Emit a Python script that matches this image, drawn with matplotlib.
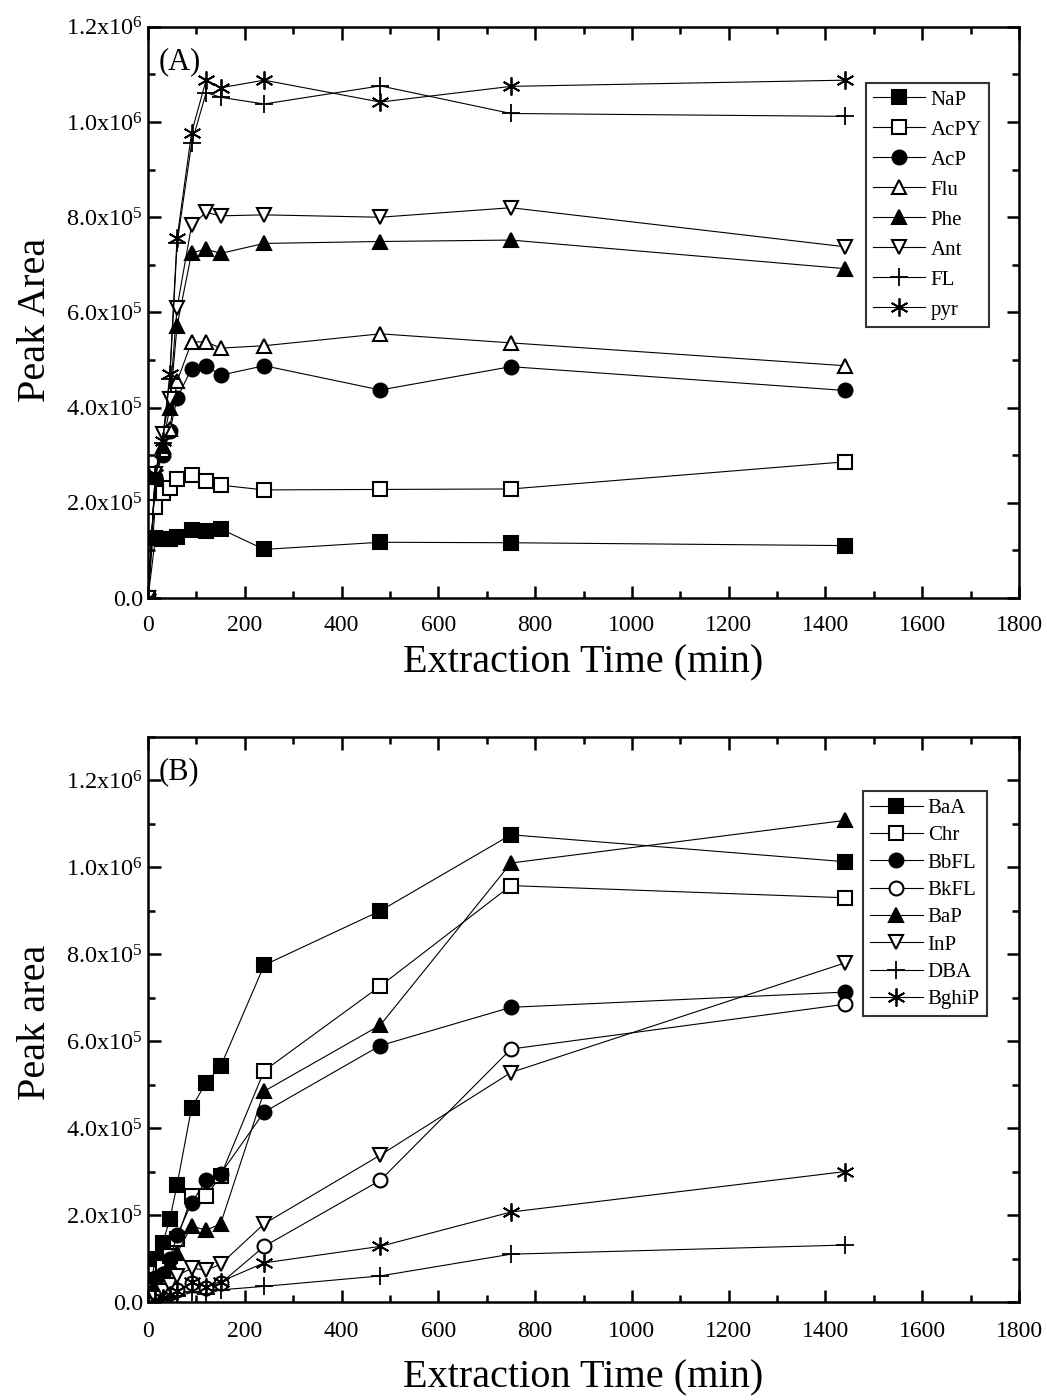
import matplotlib
matplotlib.use("Agg")
import matplotlib.pyplot as plt
from matplotlib.ticker import MultipleLocator, FixedLocator, FixedFormatter

plt.rcParams['font.family'] = ['Liberation Serif', 'DejaVu Serif']
plt.rcParams['mathtext.fontset'] = 'custom'
plt.rcParams['mathtext.rm'] = 'Liberation Serif'
plt.rcParams['mathtext.it'] = 'Liberation Serif:italic'

times = [0, 15, 30, 45, 60, 90, 120, 150, 240, 480, 750, 1440]

# Panel A
labels_a = ["NaP", "AcPY", "AcP", "Flu", "Phe", "Ant", "FL", "pyr"]
nap  = [0, 1.25e5, 1.24e5, 1.24e5, 1.28e5, 1.42e5, 1.40e5, 1.45e5, 1.02e5, 1.17e5, 1.16e5, 1.10e5]
acpy = [0, 1.92e5, 2.20e5, 2.32e5, 2.50e5, 2.58e5, 2.46e5, 2.37e5, 2.27e5, 2.28e5, 2.29e5, 2.86e5]
acp  = [0, 2.55e5, 3.00e5, 3.50e5, 4.20e5, 4.82e5, 4.88e5, 4.68e5, 4.88e5, 4.37e5, 4.86e5, 4.36e5]
flu  = [0, 2.55e5, 3.10e5, 3.55e5, 4.55e5, 5.38e5, 5.38e5, 5.25e5, 5.30e5, 5.55e5, 5.36e5, 4.88e5]
phe  = [0, 2.55e5, 3.20e5, 4.00e5, 5.72e5, 7.25e5, 7.33e5, 7.24e5, 7.45e5, 7.49e5, 7.52e5, 6.92e5]
ant  = [0, 2.60e5, 3.45e5, 4.18e5, 6.10e5, 7.83e5, 8.10e5, 8.03e5, 8.05e5, 8.00e5, 8.20e5, 7.38e5]
fl   = [0, 2.50e5, 3.25e5, 4.60e5, 7.45e5, 9.55e5, 10.62e5, 10.52e5, 10.38e5, 10.76e5, 10.18e5, 10.12e5]
pyr  = [0, 2.60e5, 3.30e5, 4.70e5, 7.56e5, 9.78e5, 10.88e5, 10.72e5, 10.88e5, 10.42e5, 10.75e5, 10.88e5]
series_a = [nap, acpy, acp, flu, phe, ant, fl, pyr]

# Panel B
labels_b = ["BaA", "Chr", "BbFL", "BkFL", "BaP", "InP", "DBA", "BghiP"]
baa   = [0, 1.00e5, 1.35e5, 1.90e5, 2.70e5, 4.47e5, 5.05e5, 5.42e5, 7.75e5, 9.00e5, 10.75e5, 10.13e5]
chr_  = [0, 0.50e5, 0.80e5, 1.05e5, 1.45e5, 2.43e5, 2.43e5, 2.90e5, 5.32e5, 7.27e5, 9.58e5, 9.30e5]
bbfl  = [0, 0.55e5, 0.65e5, 1.00e5, 1.53e5, 2.28e5, 2.80e5, 2.95e5, 4.37e5, 5.90e5, 6.78e5, 7.13e5]
bkfl  = [0, 0.05e5, 0.12e5, 0.20e5, 0.28e5, 0.43e5, 0.33e5, 0.43e5, 1.28e5, 2.80e5, 5.82e5, 6.85e5]
bap   = [0, 0.40e5, 0.65e5, 0.90e5, 1.12e5, 1.75e5, 1.65e5, 1.80e5, 4.85e5, 6.37e5, 10.10e5, 11.08e5]
inp   = [0, 0.10e5, 0.25e5, 0.40e5, 0.60e5, 0.78e5, 0.73e5, 0.87e5, 1.80e5, 3.38e5, 5.28e5, 7.80e5]
dba   = [0, 0.03e5, 0.06e5, 0.10e5, 0.13e5, 0.22e5, 0.18e5, 0.28e5, 0.36e5, 0.60e5, 1.10e5, 1.31e5]
bghip = [0, 0.05e5, 0.10e5, 0.17e5, 0.25e5, 0.45e5, 0.35e5, 0.47e5, 0.90e5, 1.28e5, 2.07e5, 3.00e5]
series_b = [baa, chr_, bbfl, bkfl, bap, inp, dba, bghip]

# marker styles: (marker, filled)
styles = [("s", True), ("s", False), ("o", True), ("^", False), ("^", True), ("v", False), ("+", True), ("*", True)]
styles_b = [("s", True), ("s", False), ("o", True), ("o", False), ("^", True), ("v", False), ("+", True), ("*", True)]

ytick_vals = [0, 2e5, 4e5, 6e5, 8e5, 1e6, 1.2e6]
ytick_txt = ["0.0", r"$\mathregular{2.0x10^{5}}$", r"$\mathregular{4.0x10^{5}}$", r"$\mathregular{6.0x10^{5}}$",
             r"$\mathregular{8.0x10^{5}}$", r"$\mathregular{1.0x10^{6}}$", r"$\mathregular{1.2x10^{6}}$"]

fig = plt.figure(figsize=(10.47, 14.0), dpi=100)
axA = fig.add_axes([0.1414, 0.5729, 0.8319, 0.4079])
axB = fig.add_axes([0.1414, 0.0700, 0.8319, 0.4036])


def draw(ax, series, labels, stys, ymax, ylabel, tag, leg_anchor, xpad, xlabpad, ylab_y, lspace):
    for vals, lab, (m, filled) in zip(series, labels, stys):
        if m == "+":
            ax.plot(times, vals, color="black", lw=0.8, marker="+", ms=13, mew=1.3, label=lab)
        elif m == "*":
            ax.plot(times, vals, color="black", lw=0.8, marker=(6, 2, 0), ms=13, mew=1.3, label=lab)
        else:
            ax.plot(times, vals, color="black", lw=0.8, marker=m, ms=10 if m != "s" else 9.5,
                    mfc="black" if filled else "white", mec="black", mew=1.5, label=lab)
    ax.set_xlim(0, 1800)
    ax.set_ylim(0, ymax)
    ax.xaxis.set_major_locator(MultipleLocator(200))
    ax.xaxis.set_minor_locator(MultipleLocator(100))
    ax.yaxis.set_major_locator(FixedLocator(ytick_vals))
    ax.yaxis.set_major_formatter(FixedFormatter(ytick_txt))
    ax.yaxis.set_minor_locator(MultipleLocator(1e5))
    ax.tick_params(which="both", direction="in", top=True, right=True, width=1.8, labelsize=17)
    ax.tick_params(which="major", length=9)
    ax.tick_params(which="minor", length=5)
    ax.tick_params(axis="x", pad=xpad)
    ax.tick_params(axis="y", labelsize=17.5)
    for sp in ax.spines.values():
        sp.set_linewidth(1.8)
    ax.set_xlabel("Extraction Time (min)", fontsize=29, labelpad=xlabpad)
    ax.set_ylabel(ylabel, fontsize=29, labelpad=8)
    ax.yaxis.set_label_coords(-0.108, ylab_y)
    ax.text(0.012, 0.965, tag, transform=ax.transAxes, fontsize=22, va="top", ha="left")
    leg = ax.legend(loc="upper left", bbox_to_anchor=leg_anchor, fontsize=15, frameon=True,
                    fancybox=False, edgecolor="black", handlelength=2.5, handletextpad=0.25,
                    labelspacing=lspace, borderpad=0.35, borderaxespad=0)
    leg.get_frame().set_linewidth(1.5)


draw(axA, series_a, labels_a, styles, 1.2e6, "Peak Area", "(A)", (0.824, 0.902), 12, 6, 0.487, 0.5)
draw(axB, series_b, labels_b, styles_b, 1.3e6, "Peak area", "(B)", (0.821, 0.904), 14, 12, 0.495, 0.37)

fig.savefig("out.png", dpi=100)
